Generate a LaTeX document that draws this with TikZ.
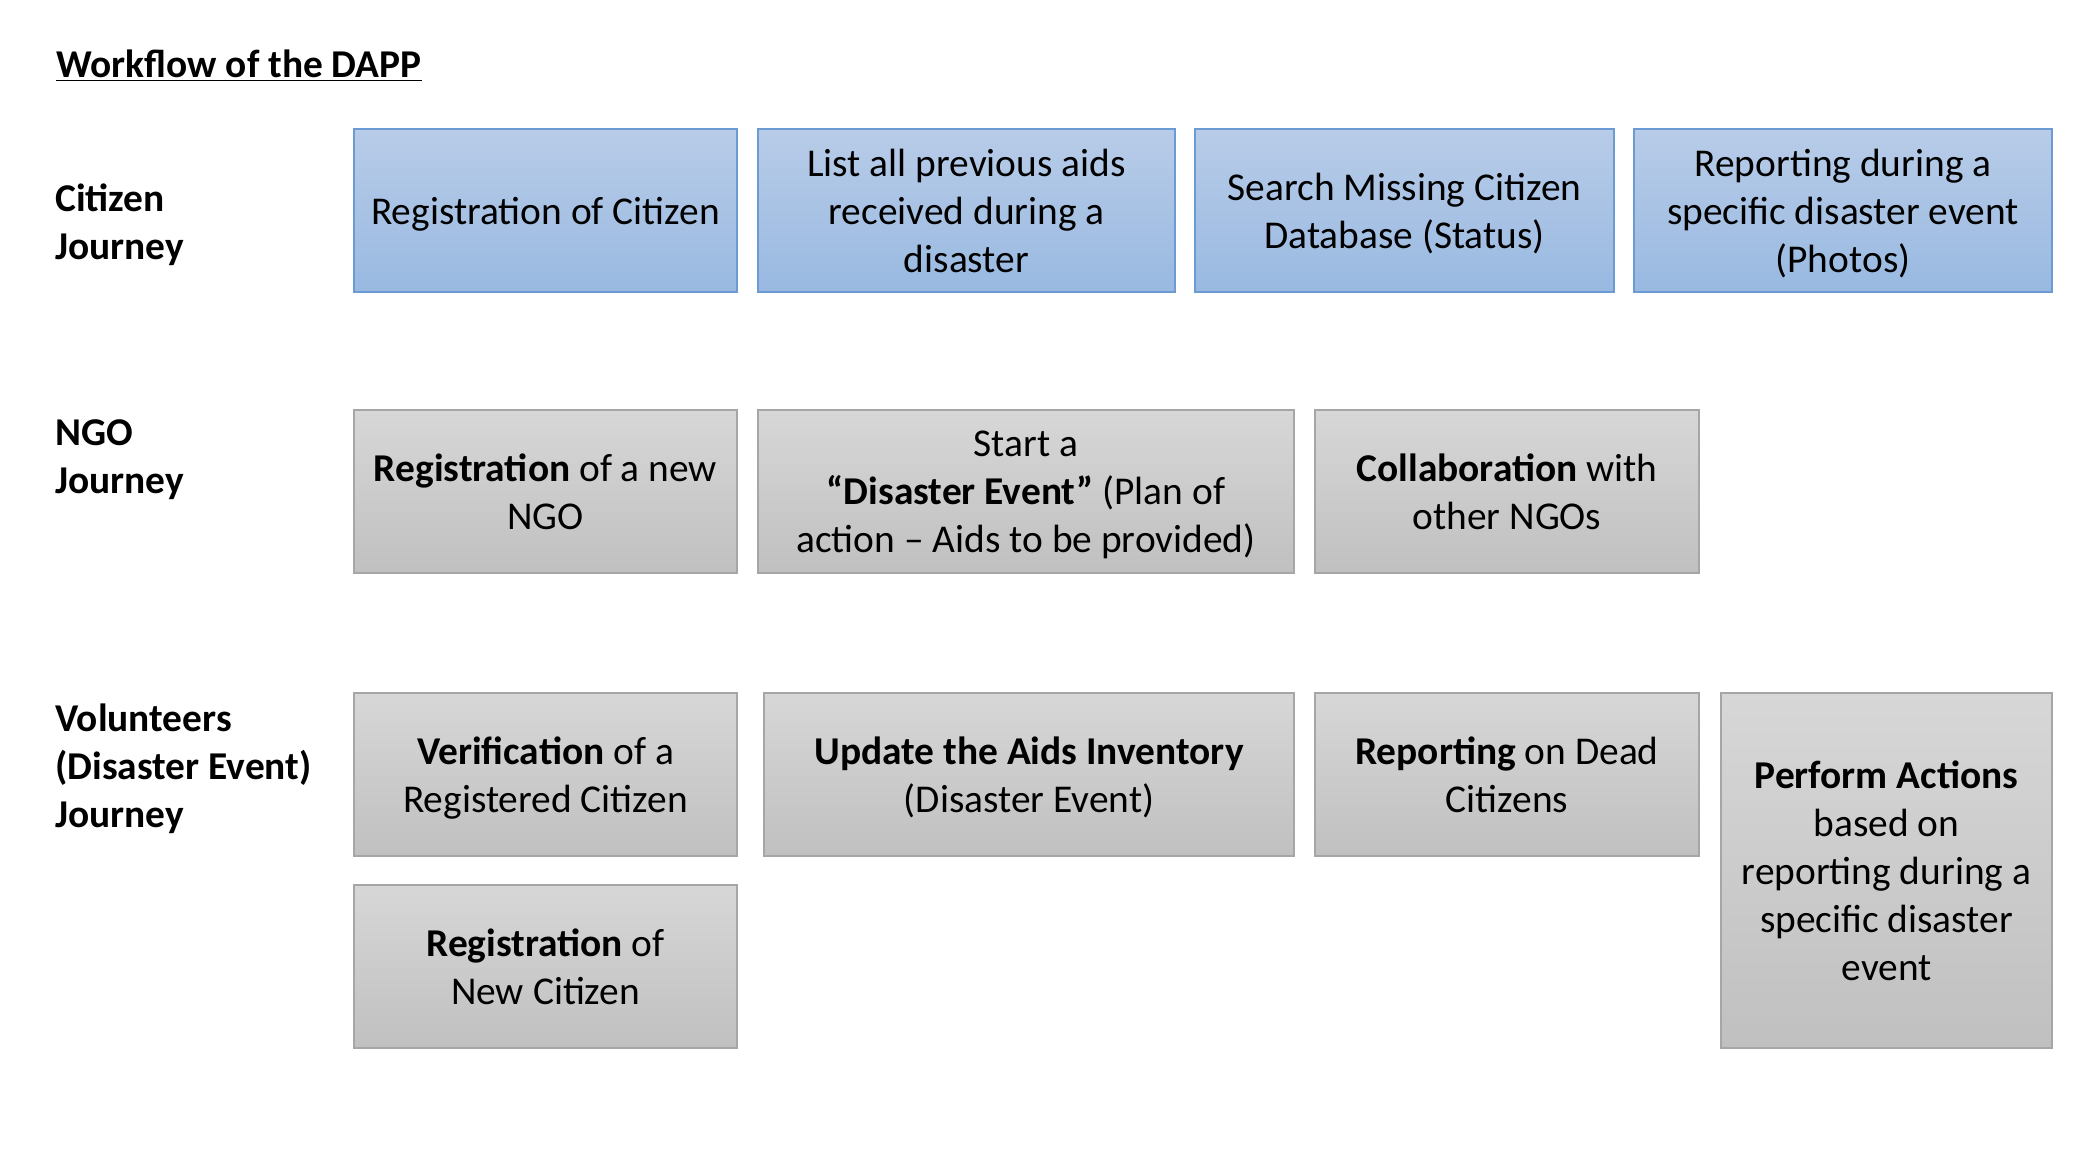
\documentclass[tikz,border=0pt]{standalone}
\usepackage{fontspec}
\setmainfont{Carlito}
\usepackage{tikz}
\usetikzlibrary{positioning}
\definecolor{citTop}{RGB}{184,204,232}
\definecolor{citBot}{RGB}{153,185,225}
\definecolor{citLine}{RGB}{108,155,212}
\definecolor{actTop}{RGB}{215,215,215}
\definecolor{actBot}{RGB}{192,192,192}
\definecolor{actLine}{RGB}{166,166,166}
\newcommand{\boxfont}{\fontsize{19.7}{24}\selectfont}
\tikzset{
  cit/.style={draw=citLine, top color=citTop, bottom color=citBot, line width=0.7pt,
              align=center, font=\boxfont, inner sep=3pt, outer sep=0pt, minimum height=81.5pt,
              text depth=0pt},
  act/.style={draw=actLine, top color=actTop, bottom color=actBot, line width=0.7pt,
              align=center, font=\boxfont, inner sep=3pt, outer sep=0pt, minimum height=81.5pt,
              text depth=0pt},
  lane/.style={anchor=west, align=left, font=\boxfont\bfseries, inner sep=0pt},
}

\begin{document}
\begin{tikzpicture}[x=0.5pt, y=-0.5pt, node distance=10pt]
\useasboundingbox (0,0) rectangle (2092,1158);

\node[anchor=base west, inner sep=0pt, font=\boxfont\bfseries] (title) at (56,77)
  {\underline{Workflow of the DAPP}};

% lane labels
\node[lane] (citlane) at (55,225) {Citizen\\Journey};
\node[lane] (ngolane) at (55,460) {NGO\\Journey};
\node[lane] (vollane) at (55,769) {Volunteers\\(Disaster Event)\\Journey};

% citizen journey
\node[cit, anchor=north west, minimum width=191.5pt] (citreg) at (354,129) {Registration of Citizen};
\node[cit, right=10.5pt of citreg, minimum width=208.5pt] (citaids) {List all previous aids\\received during a\\disaster};
\node[cit, right=of citaids, minimum width=209.5pt] (citsearch) {Search Missing Citizen\\Database (Status)};
\node[cit, right=of citsearch, minimum width=209pt] (citreport) {Reporting during a\\specific disaster event\\(Photos)};

% ngo journey
\node[act, below=59pt of citreg, minimum width=191.5pt] (ngoreg) {\textbf{Registration} of a new\\NGO};
\node[act, right=10.5pt of ngoreg, minimum width=268pt] (ngoevent)
  {Start a\\\textbf{“Disaster Event”} (Plan of\\action – Aids to be provided)};
\node[act, right=10.5pt of ngoevent, minimum width=192pt] (ngocol) {\textbf{Collaboration} with\\other NGOs};

% volunteers journey
\node[act, below=60pt of ngoreg, minimum width=191.5pt] (volverify) {\textbf{Verification} of a\\Registered Citizen};
\node[act, right=13.5pt of volverify, minimum width=265pt] (volupdate)
  {\textbf{Update the Aids Inventory}\\(Disaster Event)};
\node[act, right=10.5pt of volupdate, minimum width=192pt] (voldead) {\textbf{Reporting} on Dead\\Citizens};
\node[act, right=11pt of voldead.north east, anchor=north west, minimum width=165.5pt, minimum height=177.5pt] (volperform)
  {\textbf{Perform Actions}\\based on\\reporting during a\\specific disaster\\event};
\node[act, below=14.5pt of volverify, minimum width=191.5pt] (volnew) {\textbf{Registration} of\\New Citizen};
\end{tikzpicture}
\end{document}
